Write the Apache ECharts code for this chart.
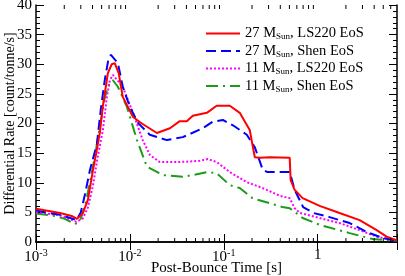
<!DOCTYPE html>
<html><head><meta charset="utf-8">
<script src="https://cdn.jsdelivr.net/npm/echarts@6/dist/echarts.min.js"></script>
<style>html,body{margin:0;padding:0;background:#fff}#c{width:405px;height:276px}</style>
</head><body><div id="c"></div>
<script>
const seriesNames = ['27 M_Sun, LS220 EoS', '27 M_Sun, Shen EoS', '11 M_Sun, LS220 EoS', '11 M_Sun, Shen EoS'];
const xTickLabels = {0.001: '10{sup|-3}', 0.01: '10{sup|-2}', 0.1: '10{sup|-1}', 1: '1'};
const yTicks = [0, 5, 10, 15, 20, 25, 30, 35, 40];

const red27LS = [[0.001,5.6],[0.0018,4.9],[0.0024,4.4],[0.00273,3.9],[0.00316,4.9],[0.00357,7.1],[0.00404,12.1],[0.00445,15.6],[0.00479,18.5],[0.00516,23],[0.00583,28.5],[0.0064,30],[0.0069,30.2],[0.0076,28.5],[0.0084,24.5],[0.0108,21.1],[0.0134,20],[0.0194,18.4],[0.0267,19.2],[0.034,20.4],[0.0404,20.4],[0.0468,21.3],[0.066,21.8],[0.084,23],[0.116,23],[0.148,21.8],[0.189,18.9],[0.214,14.3],[0.242,14.2],[0.309,14.3],[0.504,14.2],[0.515,10.5],[0.569,8.8],[0.692,7.4],[1.05,6.1],[1.71,4.9],[2.8,3.7],[4.25,2.0],[5.42,0.9],[6.92,0.3]];
const blue27Shen = [[0.001,5.3],[0.0018,4.6],[0.0027,3.7],[0.003,5.0],[0.00332,8.0],[0.00375,12.1],[0.00445,16.5],[0.00491,22.5],[0.00542,27.5],[0.0059,30.8],[0.00628,31.6],[0.00745,30.2],[0.0084,26.2],[0.01,22.8],[0.0122,20.1],[0.0163,18.1],[0.0248,17.2],[0.0366,17.7],[0.0598,19.2],[0.0764,20.3],[0.0977,20.6],[0.125,19.7],[0.176,18.1],[0.214,16],[0.26,12.2],[0.292,11.8],[0.504,11.8],[0.528,11.5],[0.569,8.8],[0.7,5.9],[0.9,4.9],[1.34,4.2],[2.19,3.2],[3.32,1.7],[4.91,0.7],[6.92,0.2]];
const mag11LS = [[0.001,5.0],[0.0018,4.5],[0.0027,3.4],[0.00316,4.0],[0.00357,5.8],[0.00404,9.5],[0.0045,14],[0.00516,18.9],[0.00569,24.5],[0.00612,27.3],[0.00659,28.2],[0.0084,26.2],[0.0108,21.8],[0.0137,17.2],[0.0163,14.7],[0.0208,13.5],[0.034,13.5],[0.0556,13.7],[0.0676,14],[0.084,13.5],[0.116,11.8],[0.176,10.1],[0.26,9.1],[0.394,7.8],[0.504,7.4],[0.569,5.7],[0.646,4.9],[1.05,4.05],[1.71,3.2],[2.8,2.0],[4.25,0.9],[6.92,0.2]];
const green11Shen = [[0.001,4.8],[0.00159,4.4],[0.00203,3.9],[0.0026,3.0],[0.00294,3.6],[0.00332,6],[0.00375,10],[0.00424,14.5],[0.00479,19.5],[0.00542,24.5],[0.00612,27.0],[0.00659,27.3],[0.00745,26.2],[0.0093,22.8],[0.0119,17.2],[0.0152,12.7],[0.0225,11.3],[0.0366,11.0],[0.0468,11.3],[0.066,11.8],[0.084,11.6],[0.116,9.6],[0.148,9.1],[0.202,7.4],[0.422,5.9],[0.504,5.7],[0.692,4.05],[1.05,2.9],[2.19,1.5],[3.85,0.5],[6.92,0.2]];

const xMin = 0.001, xMax = 7;
const minorTicks = [];
for (let d = 0.001; d < 10; d *= 10) {
  for (let k = 2; k <= 9; k++) { const v = +(k * d).toPrecision(3); if (v < xMax) minorTicks.push([v, 0]); }
}

const FONT = 'Liberation Serif';
const chart = echarts.init(document.getElementById('c'), null, {renderer: 'canvas'});
const lineSeries = (name, data, color, type, z) => ({
  name, type: 'line', data, symbol: 'none', showSymbol: false, smooth: false, z,
  lineStyle: {color, width: 2, type}, itemStyle: {color}, xAxisIndex: 0, yAxisIndex: 0
});
const richLegend = {
  a: {fontFamily: FONT, fontSize: 14.5, lineHeight: 16, color: '#000'},
  sub: {fontFamily: FONT, fontSize: 9, lineHeight: 6, color: '#000', verticalAlign: 'bottom'}
};
chart.setOption({
  animation: false,
  grid: {left: 36, right: 8, top: 5, bottom: 34, containLabel: false, outerBoundsMode: 'none'},
  legend: {
    data: seriesNames, orient: 'vertical', left: 200, top: 21, itemWidth: 34, itemHeight: 10, itemGap: 2,
    itemStyle: {opacity: 0},
    formatter: n => { const p = n.split('M_Sun'); return '{a|' + p[0] + 'M}{sub|Sun}{a|' + p[1] + '}'; },
    textStyle: {rich: richLegend}
  },
  xAxis: [{
    type: 'log', min: xMin, max: xMax, logBase: 10,
    name: 'Post-Bounce Time [s]', nameLocation: 'middle', nameGap: 19, nameMoveOverlap: false,
    nameTextStyle: {fontFamily: FONT, fontSize: 15, color: '#000'},
    axisLine: {lineStyle: {color: '#000', width: 1.5}},
    axisTick: {inside: true, length: 8, lineStyle: {color: '#000'}},
    axisLabel: {margin: 6, fontFamily: FONT, fontSize: 15, color: '#000',
      formatter: v => xTickLabels[+v.toPrecision(3)] || '',
      rich: {sup: {fontFamily: FONT, fontSize: 10, color: '#000', verticalAlign: 'top', padding: [0, 0, 8, 0]}}},
    splitLine: {show: false}
  }, {
    type: 'log', min: xMin, max: xMax, position: 'top',
    axisLine: {lineStyle: {color: '#000', width: 1.5}},
    axisTick: {inside: true, length: 8, lineStyle: {color: '#000'}},
    axisLabel: {show: false}, splitLine: {show: false}
  }],
  yAxis: [{
    type: 'value', min: 0, max: 40, interval: 5,
    name: 'Differential Rate [count/tonne/s]', nameLocation: 'middle', nameGap: 19, nameMoveOverlap: false,
    nameTextStyle: {fontFamily: FONT, fontSize: 14, color: '#000'},
    axisLine: {show: true, lineStyle: {color: '#000', width: 1.5}},
    axisTick: {inside: true, length: 8, lineStyle: {color: '#000'}},
    minorTick: {show: true, splitNumber: 5, length: 4, lineStyle: {color: '#000'}},
    axisLabel: {margin: 4, fontFamily: FONT, fontSize: 15, color: '#000',
      formatter: v => yTicks.includes(v) ? String(v) : ''},
    splitLine: {show: false}
  }, {
    type: 'value', min: 0, max: 40, interval: 5, position: 'right',
    axisLine: {show: true, lineStyle: {color: '#000', width: 1.5}},
    axisTick: {show: true, inside: true, length: 8, lineStyle: {color: '#000'}},
    minorTick: {show: true, splitNumber: 5, length: 4, lineStyle: {color: '#000'}},
    axisLabel: {show: false}, splitLine: {show: false}
  }],
  series: [
    lineSeries(seriesNames[3], green11Shen, '#1a9c1a', [12, 5, 2, 5], 2),
    lineSeries(seriesNames[2], mag11LS, '#ff00ff', [2, 2], 3),
    lineSeries(seriesNames[1], blue27Shen, '#0000ff', [10, 5], 4),
    lineSeries(seriesNames[0], red27LS, '#ff0000', 'solid', 5),
    {
      type: 'custom', data: minorTicks, xAxisIndex: 0, yAxisIndex: 0, z: 10, silent: true,
      encode: {x: 0, y: 1},
      renderItem: (params, api) => {
        const t = api.value(0);
        const b = api.coord([t, 0]), tp = api.coord([t, 40]);
        return {type: 'group', children: [
          {type: 'line', shape: {x1: b[0], y1: b[1], x2: b[0], y2: b[1] - 4}, style: {stroke: '#000', lineWidth: 1}},
          {type: 'line', shape: {x1: tp[0], y1: tp[1], x2: tp[0], y2: tp[1] + 4}, style: {stroke: '#000', lineWidth: 1}}
        ]};
      }
    }
  ]
});
</script></body></html>
